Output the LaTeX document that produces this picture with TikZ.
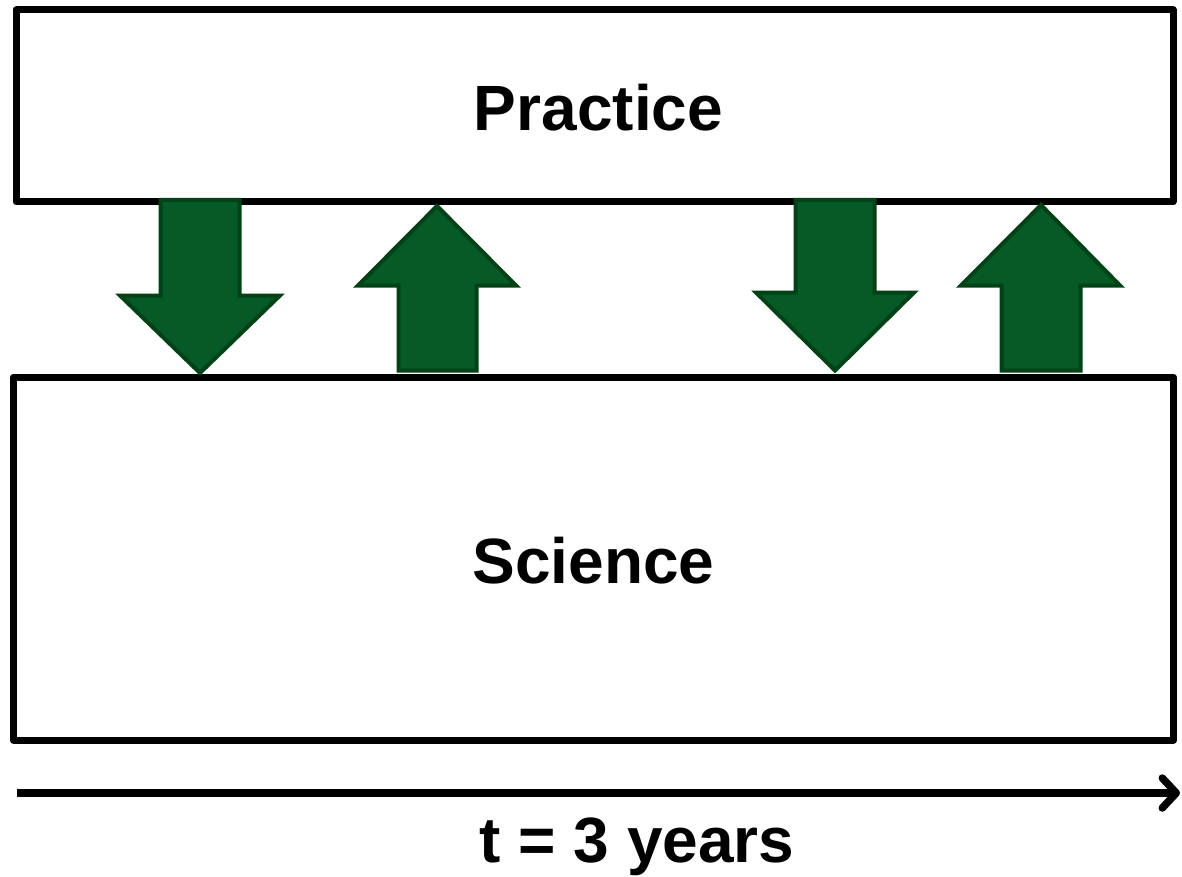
\documentclass[tikz,border=0pt]{standalone}
\usepackage{fontspec}
\setmainfont{Liberation Sans}
\usetikzlibrary{arrows.meta}
\definecolor{arrowfill}{RGB}{5,90,38}
\definecolor{arrowedge}{RGB}{0,66,22}
\tikzset{
  box/.style={draw=black, line width=7pt, rectangle, inner sep=0pt, line join=round,
    font=\fontsize{64}{72}\selectfont\bfseries, text height=50pt, text depth=0pt},
  bigarrow/.style={fill=arrowfill, draw=arrowedge, line width=4pt, line join=miter},
  timeline/.style={draw=black, line width=7.5pt,
    -{Straight Barb[length=14pt, width=30pt, line cap=round, line join=round]}},
  label/.style={font=\fontsize{64}{72}\selectfont\bfseries, inner sep=0pt}
}
\begin{document}
\begin{tikzpicture}[x=1pt, y=-1pt]
\useasboundingbox (0,0) rectangle (1182,877);
% boxes
\node[box, minimum width=1157pt, minimum height=192pt, text width=1100pt, align=center] (practice) at (594.5,106) {\hspace*{8pt}Practice};
\node[box, minimum width=1160pt, minimum height=363pt] (science) at (593.5,558.5) {Science};
% arrows: down, up, down, up
\path[bigarrow] (160.5,200) -- (239.5,200) -- (239.5,295.5) -- (280,295.5) -- (200,373) -- (120,295.5) -- (160.5,295.5) -- cycle;
\path[bigarrow] (437,206) -- (516,285.5) -- (476.5,285.5) -- (476.5,370.5) -- (398.5,370.5) -- (398.5,285.5) -- (358,285.5) -- cycle;
\path[bigarrow] (795.5,200) -- (874.5,200) -- (874.5,292.5) -- (914,292.5) -- (835,370.5) -- (756,292.5) -- (795.5,292.5) -- cycle;
\path[bigarrow] (1041,205) -- (1120,285.5) -- (1080.5,285.5) -- (1080.5,370.5) -- (1001.5,370.5) -- (1001.5,285.5) -- (961,285.5) -- cycle;
% time axis
\coordinate (tstart) at (17,793);
\coordinate (tend) at (1180,793);
\draw[timeline] (tstart) -- (tend);
\node[label, anchor=base] (tlabel) at (637,862) {t = 3 years};
\end{tikzpicture}
\end{document}
